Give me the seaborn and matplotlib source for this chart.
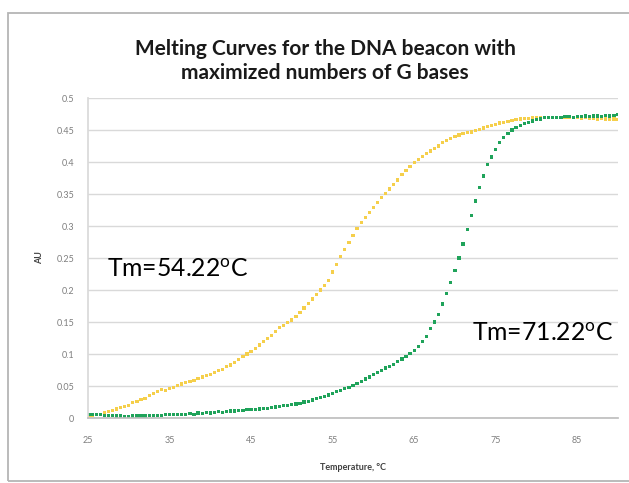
"""Melting curves for the DNA beacon (G-rich variant)."""

import matplotlib
matplotlib.use("Agg")
import matplotlib.pyplot as plt
import pandas as pd
import seaborn as sns
from matplotlib.patches import Rectangle

temperature = [
    25.0, 25.5, 26.0, 26.5, 27.0, 27.5, 28.0, 28.5, 29.0, 29.5,
    30.0, 30.5, 31.0, 31.5, 32.0, 32.5, 33.0, 33.5, 34.0, 34.5,
    35.0, 35.5, 36.0, 36.5, 37.0, 37.5, 38.0, 38.5, 39.0, 39.5,
    40.0, 40.5, 41.0, 41.5, 42.0, 42.5, 43.0, 43.5, 44.0, 44.5,
    45.0, 45.5, 46.0, 46.5, 47.0, 47.5, 48.0, 48.5, 49.0, 49.5,
    50.0, 50.5, 51.0, 51.5, 52.0, 52.5, 53.0, 53.5, 54.0, 54.5,
    55.0, 55.5, 56.0, 56.5, 57.0, 57.5, 58.0, 58.5, 59.0, 59.5,
    60.0, 60.5, 61.0, 61.5, 62.0, 62.5, 63.0, 63.5, 64.0, 64.5,
    65.0, 65.5, 66.0, 66.5, 67.0, 67.5, 68.0, 68.5, 69.0, 69.5,
    70.0, 70.5, 71.0, 71.5, 72.0, 72.5, 73.0, 73.5, 74.0, 74.5,
    75.0, 75.5, 76.0, 76.5, 77.0, 77.5, 78.0, 78.5, 79.0, 79.5,
    80.0, 80.5, 81.0, 81.5, 82.0, 82.5, 83.0, 83.5, 84.0, 84.5,
    85.0, 85.5, 86.0, 86.5, 87.0, 87.5, 88.0, 88.5, 89.0, 89.5,
    90.0,
]

# Tm = 54.22 C curve (yellow)
au_low_tm = [
    0.004, 0.004, 0.005, 0.006, 0.008, 0.010, 0.012, 0.014, 0.016, 0.018,
    0.020, 0.024, 0.026, 0.029, 0.031, 0.035, 0.038, 0.041, 0.044, 0.043,
    0.046, 0.048, 0.051, 0.053, 0.055, 0.057, 0.059, 0.062, 0.064, 0.066,
    0.068, 0.071, 0.074, 0.076, 0.080, 0.083, 0.087, 0.091, 0.096, 0.100,
    0.104, 0.109, 0.114, 0.119, 0.124, 0.129, 0.135, 0.141, 0.145, 0.149,
    0.153, 0.159, 0.165, 0.172, 0.179, 0.186, 0.193, 0.200, 0.207, 0.215,
    0.228, 0.240, 0.252, 0.263, 0.274, 0.285, 0.296, 0.305, 0.313, 0.321,
    0.329, 0.337, 0.344, 0.351, 0.358, 0.365, 0.372, 0.380, 0.387, 0.393,
    0.399, 0.404, 0.409, 0.413, 0.417, 0.421, 0.425, 0.430, 0.434, 0.437,
    0.440, 0.442, 0.444, 0.446, 0.447, 0.449, 0.451, 0.453, 0.455, 0.457,
    0.459, 0.461, 0.462, 0.463, 0.465, 0.466, 0.467, 0.468, 0.468, 0.469,
    0.469, 0.470, 0.470, 0.469, 0.470, 0.469, 0.470, 0.469, 0.469, 0.470,
    0.469, 0.468, 0.469, 0.468, 0.468, 0.467, 0.468, 0.467, 0.466, 0.467,
    0.466,
]

# Tm = 71.22 C curve (green)
au_high_tm = [
    0.006, 0.006, 0.005, 0.005, 0.004, 0.004, 0.004, 0.003, 0.003, 0.002,
    0.002, 0.003, 0.003, 0.003, 0.003, 0.004, 0.004, 0.004, 0.004, 0.005,
    0.005, 0.005, 0.006, 0.005, 0.006, 0.007, 0.006, 0.008, 0.007, 0.009,
    0.008, 0.009, 0.010, 0.009, 0.010, 0.011, 0.011, 0.012, 0.012, 0.013,
    0.013, 0.013, 0.014, 0.015, 0.015, 0.016, 0.017, 0.018, 0.019, 0.020,
    0.021, 0.022, 0.023, 0.025, 0.026, 0.028, 0.030, 0.032, 0.034, 0.036,
    0.038, 0.041, 0.043, 0.046, 0.048, 0.051, 0.054, 0.057, 0.061, 0.064,
    0.068, 0.071, 0.074, 0.078, 0.080, 0.084, 0.088, 0.092, 0.096, 0.101,
    0.106, 0.112, 0.119, 0.127, 0.140, 0.150, 0.162, 0.178, 0.195, 0.212,
    0.230, 0.250, 0.272, 0.294, 0.316, 0.339, 0.360, 0.378, 0.396, 0.408,
    0.420, 0.430, 0.438, 0.444, 0.450, 0.454, 0.457, 0.460, 0.462, 0.464,
    0.466, 0.467, 0.469, 0.469, 0.470, 0.470, 0.470, 0.471, 0.471, 0.470,
    0.471, 0.471, 0.472, 0.471, 0.472, 0.472, 0.471, 0.473, 0.472, 0.473,
    0.474,
]

x_ticks = [25, 35, 45, 55, 65, 75, 85]
y_ticks = [0, 0.05, 0.1, 0.15, 0.2, 0.25, 0.3, 0.35, 0.4, 0.45, 0.5]
y_tick_labels = ["0", "0.05", "0.1", "0.15", "0.2", "0.25", "0.3", "0.35", "0.4", "0.45", "0.5"]

title = "Melting Curves for the DNA beacon with\nmaximized numbers of G bases"
tm_labels = [r"Tm=54.22$^{\mathrm{o}}$C", r"Tm=71.22$^{\mathrm{o}}$C"]
tm_label_pos = [(27.3, 0.220), (72.1, 0.120)]

assert len(temperature) == len(au_low_tm) == len(au_high_tm)

frame = pd.concat([
    pd.DataFrame({"temperature": temperature, "au": au_low_tm, "curve": "low"}),
    pd.DataFrame({"temperature": temperature, "au": au_high_tm, "curve": "high"}),
])

sns.set_theme(style="white")
plt.rcParams["font.family"] = ["Lato", "DejaVu Sans"]
plt.rcParams["mathtext.fontset"] = "custom"
plt.rcParams["mathtext.rm"] = "Lato"

fig = plt.figure(figsize=(6.29, 4.83), dpi=100)
fig.patches.append(Rectangle((8 / 629, 2 / 483), 1.2, 468 / 483, transform=fig.transFigure,
                             fill=False, edgecolor="#b5b5b5", linewidth=1.3))
ax = fig.add_axes([88 / 629, 65 / 483, 530 / 629, 320 / 483])

sns.scatterplot(data=frame, x="temperature", y="au", hue="curve",
                palette={"low": "#f5cf4b", "high": "#1fa35a"},
                marker="s", s=5.5, linewidth=0, legend=False, ax=ax)

ax.set_xlim(25, 90)
ax.set_ylim(0, 0.5)
ax.set_xticks(x_ticks)
ax.set_yticks(y_ticks)
ax.set_yticklabels(y_tick_labels)
ax.yaxis.grid(True, color="#d9d9d9", linewidth=1.0)
ax.set_axisbelow(True)
for side in ["top", "right"]:
    ax.spines[side].set_visible(False)
ax.spines["left"].set_color("#d9d9d9")
ax.spines["bottom"].set_color("#bfbfbf")
ax.tick_params(axis="y", labelsize=6.5, labelcolor="#7f7f7f", length=0, pad=10)
ax.tick_params(axis="x", labelsize=6.5, labelcolor="#7f7f7f", length=0, pad=13)

ax.set_xlabel("Temperature, °C", fontsize=6.5, fontweight="bold", color="#404040", labelpad=13)
ax.set_ylabel("AU", fontsize=6.5, fontweight="bold", color="#404040", labelpad=9)

for label, (tx, ty) in zip(tm_labels, tm_label_pos):
    ax.text(tx, ty, label, fontsize=17.8, color="black", va="baseline", ha="left")

fig.text(325 / 629, 1 - 61 / 483, title, ha="center", va="center", fontsize=15,
         fontweight="bold", color="#1a1a1a", linespacing=1.2)

fig.savefig("out.png", dpi=100)
